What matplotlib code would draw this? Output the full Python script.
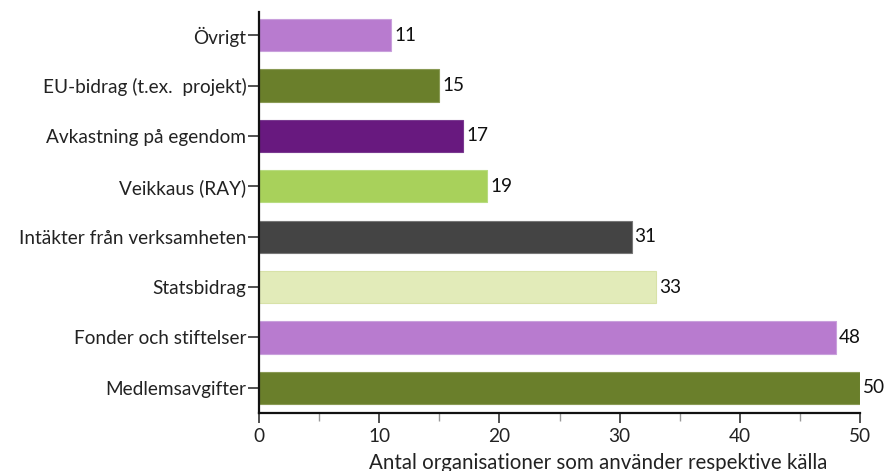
import matplotlib.pyplot as plt
from matplotlib.ticker import MultipleLocator

categories = ["Medlemsavgifter", "Fonder och stiftelser", "Statsbidrag",
              "Intäkter från verksamheten", "Veikkaus (RAY)", "Avkastning på egendom",
              "EU-bidrag (t.ex.  projekt)", "Övrigt"]
values = [50, 48, 33, 31, 19, 17, 15, 11]
colors = ["#6a7f2b", "#b87bcf", "#e2ebb9", "#444444", "#a8d15b", "#68197f", "#6a7f2b", "#b87bcf"]
edges = ["#8a9a55", "#c9a0dc", "#d8e2a8", "#777777", "#b8dc80", "#7a3a90", "#8a9a55", "#c9a0dc"]

plt.rcParams["font.family"] = ["Lato", "DejaVu Sans"]

fig = plt.figure(figsize=(8.9, 4.71), dpi=100)
ax = fig.add_axes([259 / 890, 1 - 413 / 471, (860 - 259) / 890, (413 - 12) / 471])

ypos = list(range(len(categories)))
ax.barh(ypos, values, height=0.64, color=colors, edgecolor=edges, linewidth=0.8)
for y, v in zip(ypos, values):
    ax.text(v + 0.25, y, str(v), va="center", ha="left", fontsize=13.7, color="#111111")

ax.set_yticks(ypos)
ax.set_yticklabels(categories, fontsize=13.7, color="#222222")
ax.set_xlim(0, 50)
ax.set_ylim(-0.5, 7.46)
ax.xaxis.set_major_locator(MultipleLocator(10))
ax.xaxis.set_minor_locator(MultipleLocator(5))
ax.tick_params(axis="x", which="major", labelsize=13.7, length=7.5, width=1.1, color="#222222", labelcolor="#222222", pad=3)
ax.tick_params(axis="x", which="minor", length=6, width=1, color="#999999")
ax.tick_params(axis="y", length=8, width=1.1, color="#222222", pad=1)
ax.set_xlabel("Antal organisationer som använder respektive källa", fontsize=14.8, color="#222222")
ax.xaxis.set_label_coords(0.564, -0.099)

for s in ["top", "right"]:
    ax.spines[s].set_visible(False)
ax.spines["left"].set_linewidth(1.6)
ax.spines["bottom"].set_linewidth(1.6)
ax.spines["left"].set_color("#111111")
ax.spines["bottom"].set_color("#111111")

fig.savefig("out.png", dpi=100)
